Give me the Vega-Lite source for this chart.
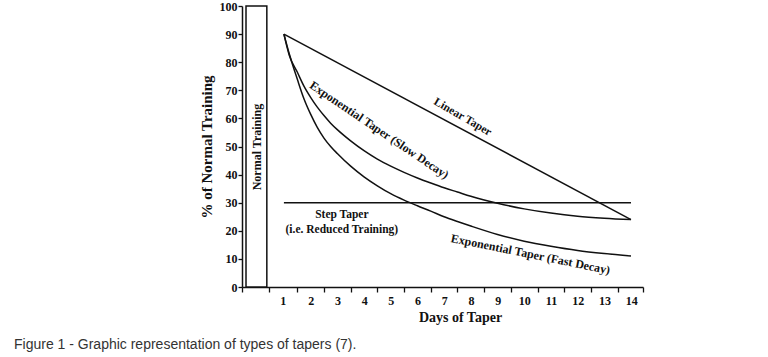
{
  "$schema": "https://vega.github.io/schema/vega-lite/v6.json",
  "width": 401,
  "height": 281,
  "autosize": {"type": "none"},
  "padding": {"left": 242, "top": 6, "right": 125, "bottom": 70},
  "background": "white",
  "config": {"view": {"stroke": null}, "font": "Liberation Serif"},
  "title": {
    "text": "Figure 1 - Graphic representation of types of tapers (7).",
    "orient": "bottom",
    "anchor": "start",
    "frame": "group",
    "dx": -228,
    "offset": 14,
    "font": "Liberation Sans",
    "fontSize": 14,
    "fontWeight": "normal",
    "color": "#333333"
  },
  "resolve": {"axis": {"x": "independent", "y": "independent"}},
  "datasets": {
    "bar": [{"start": -0.42, "end": 0.36, "low": 0, "high": 100}],
    "curves": [
      {"series": "Linear Taper", "day": 1, "value": 90},
      {"series": "Linear Taper", "day": 14, "value": 24},
      {"series": "Step Taper", "day": 1, "value": 30},
      {"series": "Step Taper", "day": 14, "value": 30},
      {"series": "Slow", "day": 1, "value": 90},
      {"series": "Slow", "day": 1.2, "value": 82.5},
      {"series": "Slow", "day": 1.5, "value": 76.5},
      {"series": "Slow", "day": 1.75, "value": 71.5},
      {"series": "Slow", "day": 2, "value": 67.5},
      {"series": "Slow", "day": 2.25, "value": 64},
      {"series": "Slow", "day": 2.5, "value": 61},
      {"series": "Slow", "day": 2.75, "value": 58.3},
      {"series": "Slow", "day": 3, "value": 56},
      {"series": "Slow", "day": 3.5, "value": 52},
      {"series": "Slow", "day": 4, "value": 48.5},
      {"series": "Slow", "day": 4.5, "value": 45.5},
      {"series": "Slow", "day": 5, "value": 43},
      {"series": "Slow", "day": 5.5, "value": 40.8},
      {"series": "Slow", "day": 6, "value": 38.8},
      {"series": "Slow", "day": 6.5, "value": 37},
      {"series": "Slow", "day": 7, "value": 35.3},
      {"series": "Slow", "day": 7.5, "value": 33.8},
      {"series": "Slow", "day": 8, "value": 32.3},
      {"series": "Slow", "day": 9, "value": 29.8},
      {"series": "Slow", "day": 10, "value": 27.8},
      {"series": "Slow", "day": 11, "value": 26.3},
      {"series": "Slow", "day": 12, "value": 25.2},
      {"series": "Slow", "day": 13, "value": 24.5},
      {"series": "Slow", "day": 14, "value": 24},
      {"series": "Fast", "day": 1, "value": 90},
      {"series": "Fast", "day": 1.2, "value": 83},
      {"series": "Fast", "day": 1.5, "value": 74},
      {"series": "Fast", "day": 1.75, "value": 67},
      {"series": "Fast", "day": 2, "value": 61.5},
      {"series": "Fast", "day": 2.25, "value": 56.8},
      {"series": "Fast", "day": 2.5, "value": 53},
      {"series": "Fast", "day": 2.75, "value": 50},
      {"series": "Fast", "day": 3, "value": 47.5},
      {"series": "Fast", "day": 3.5, "value": 43},
      {"series": "Fast", "day": 4, "value": 39.2},
      {"series": "Fast", "day": 4.5, "value": 36},
      {"series": "Fast", "day": 5, "value": 33.2},
      {"series": "Fast", "day": 5.5, "value": 30.9},
      {"series": "Fast", "day": 6, "value": 28.9},
      {"series": "Fast", "day": 6.5, "value": 27},
      {"series": "Fast", "day": 7, "value": 25},
      {"series": "Fast", "day": 7.5, "value": 23.3},
      {"series": "Fast", "day": 8, "value": 21.7},
      {"series": "Fast", "day": 9, "value": 18.7},
      {"series": "Fast", "day": 10, "value": 16.3},
      {"series": "Fast", "day": 11, "value": 14.5},
      {"series": "Fast", "day": 12, "value": 13},
      {"series": "Fast", "day": 13, "value": 11.9},
      {"series": "Fast", "day": 14, "value": 11}
    ],
    "lin": [{"label": "Linear Taper", "day": 7.69, "value": 60.4}],
    "slow": [{"label": "Exponential Taper (Slow Decay)", "day": 4.57, "value": 55.9}],
    "fast": [{"label": "Exponential Taper (Fast Decay)", "day": 10.24, "value": 11.7}],
    "step": [
      {"label": "Step Taper", "day": 3.17, "value": 25.6},
      {"label": "(i.e. Reduced Training)", "day": 3.17, "value": 20.3}
    ],
    "normal": [{"label": "Normal Training", "day": 0.0, "value": 49.8}]
  },
  "layer": [
    {
      "data": {"name": "bar"},
      "mark": {"type": "rect", "fill": "white", "stroke": "#111111", "strokeWidth": 1.5},
      "encoding": {
        "x": {
          "field": "start",
          "type": "quantitative",
          "scale": {"domain": [-0.57, 14.45], "nice": false, "zero": false},
          "axis": {
            "title": "Days of Taper",
            "titleFont": "Liberation Serif",
            "titleFontSize": 14,
            "titleFontWeight": "bold",
            "titleColor": "#111111",
            "titlePadding": 4,
            "titleX": 218,
            "values": [-0.57, 0.45, 1.5, 2.5, 3.5, 4.5, 5.5, 6.5, 7.5, 8.5, 9.5, 10.5, 11.5, 12.5, 13.5, 14.45],
            "labelExpr": "datum.value > 0 && datum.value < 14 ? format(round(datum.value + 0.5), 'd') : ''",
            "labelOffset": 13.5,
            "labelFlush": false,
            "labelOverlap": false,
            "labelBound": false,
            "labelFont": "Liberation Serif",
            "labelFontSize": 12,
            "labelFontWeight": "bold",
            "labelColor": "#111111",
            "labelPadding": 3,
            "tickSize": 5,
            "tickColor": "#111111",
            "tickWidth": 1.3,
            "domainColor": "#111111",
            "domainWidth": 1.5,
            "grid": false
          }
        },
        "x2": {"field": "end"},
        "y": {
          "field": "low",
          "type": "quantitative",
          "scale": {"domain": [0, 100], "nice": false},
          "axis": {
            "title": "% of Normal Training",
            "titleFont": "Liberation Serif",
            "titleFontSize": 15,
            "titleFontWeight": "bold",
            "titleColor": "#111111",
            "titlePadding": 5,
            "values": [0, 10, 20, 30, 40, 50, 60, 70, 80, 90, 100],
            "labelOverlap": false,
            "labelFont": "Liberation Serif",
            "labelFontSize": 12,
            "labelFontWeight": "bold",
            "labelColor": "#111111",
            "labelPadding": 1,
            "tickSize": 4,
            "tickColor": "#111111",
            "tickWidth": 1.3,
            "domainColor": "#111111",
            "domainWidth": 1.5,
            "grid": false
          }
        },
        "y2": {"field": "high"}
      }
    },
    {
      "data": {"name": "curves"},
      "mark": {"type": "line", "stroke": "#111111", "strokeWidth": 1.5, "interpolate": "monotone"},
      "encoding": {
        "x": {"field": "day", "type": "quantitative", "axis": null},
        "y": {"field": "value", "type": "quantitative", "axis": null},
        "detail": {"field": "series"}
      }
    },
    {
      "data": {"name": "lin"},
      "mark": {"type": "text", "angle": 30, "font": "Liberation Serif", "fontSize": 11.5, "fontWeight": "bold", "color": "#111111", "align": "center", "baseline": "middle"},
      "encoding": {
        "x": {"field": "day", "type": "quantitative", "axis": null},
        "y": {"field": "value", "type": "quantitative", "axis": null},
        "text": {"field": "label"}
      }
    },
    {
      "data": {"name": "slow"},
      "mark": {"type": "text", "angle": 34, "font": "Liberation Serif", "fontSize": 12, "fontWeight": "bold", "color": "#111111", "align": "center", "baseline": "middle"},
      "encoding": {
        "x": {"field": "day", "type": "quantitative", "axis": null},
        "y": {"field": "value", "type": "quantitative", "axis": null},
        "text": {"field": "label"}
      }
    },
    {
      "data": {"name": "fast"},
      "mark": {"type": "text", "angle": 11.5, "font": "Liberation Serif", "fontSize": 12, "fontWeight": "bold", "color": "#111111", "align": "center", "baseline": "middle"},
      "encoding": {
        "x": {"field": "day", "type": "quantitative", "axis": null},
        "y": {"field": "value", "type": "quantitative", "axis": null},
        "text": {"field": "label"}
      }
    },
    {
      "data": {"name": "step"},
      "mark": {"type": "text", "font": "Liberation Serif", "fontSize": 11.5, "fontWeight": "bold", "color": "#111111", "align": "center", "baseline": "middle"},
      "encoding": {
        "x": {"field": "day", "type": "quantitative", "axis": null},
        "y": {"field": "value", "type": "quantitative", "axis": null},
        "text": {"field": "label"}
      }
    },
    {
      "data": {"name": "normal"},
      "mark": {"type": "text", "angle": 270, "font": "Liberation Serif", "fontSize": 12, "fontWeight": "bold", "color": "#111111", "align": "center", "baseline": "middle"},
      "encoding": {
        "x": {"field": "day", "type": "quantitative", "axis": null},
        "y": {"field": "value", "type": "quantitative", "axis": null},
        "text": {"field": "label"}
      }
    }
  ]
}
